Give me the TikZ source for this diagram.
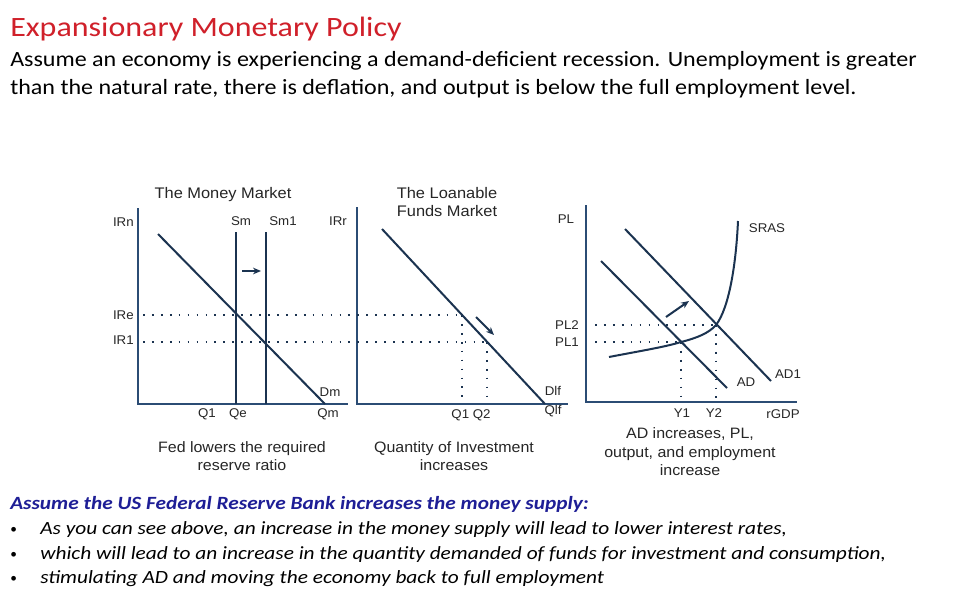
\documentclass[tikz,border=0pt]{standalone}
\usepackage{graphicx}
\usepackage{fontspec}
\setmainfont{Carlito}
\newfontfamily\arial{Liberation Sans}
\usetikzlibrary{arrows.meta}
\definecolor{titlered}{HTML}{D0202A}
\definecolor{headblue}{HTML}{1E1E96}
\definecolor{axiscol}{HTML}{2B4C74}
\definecolor{curvecol}{HTML}{1B3350}
\definecolor{labcol}{HTML}{262626}
\newcommand{\hs}[2]{\scalebox{#1}[1]{#2}}
\tikzset{
  axisline/.style={draw=axiscol, line width=2pt},
  curve/.style={draw=curvecol, line width=1.5pt},
  dotline/.style={draw=curvecol, line width=1.4pt, dash pattern=on 1.3pt off 5.4pt},
  shiftarrow/.style={draw=curvecol, line width=1.5pt, -{Stealth[length=6pt,width=5pt]}},
  lab/.style={font=\arial\fontsize{9.5}{11}\selectfont, text=labcol, inner sep=0pt},
  ttl/.style={anchor=base, font=\arial\fontsize{11.5}{13}\selectfont, text=labcol, inner sep=0pt},
  captext/.style={anchor=base, font=\arial\fontsize{11.3}{13}\selectfont, text=labcol, inner sep=0pt},
  bodytext/.style={anchor=base west, inner sep=0pt, font=\fontsize{16.3}{18}\selectfont},
  bullettext/.style={anchor=base west, inner sep=0pt, font=\itshape\fontsize{14}{16}\selectfont},
  bulletdot/.style={anchor=base west, inner sep=0pt, font=\fontsize{10}{12}\selectfont},
}
\begin{document}
\begin{tikzpicture}[x=0.75pt,y=-0.75pt]
\useasboundingbox[fill=white] (0,0) rectangle (960,600);

% ---------- texts ----------
\node[anchor=base west, inner sep=0pt, text=titlered, font=\fontsize{21}{25}\selectfont] (title) at (10,36) {\hs{1.143}{Expansionary Monetary Policy}};
\node[bodytext] (body1) at (10,66) {\hs{1.106}{Assume an economy is experiencing a demand-deficient recession. Unemployment is greater}};
\node[bodytext] (body2) at (10,94) {\hs{1.106}{than the natural rate, there is deflation, and output is below the full employment level.}};

\node[anchor=base west, inner sep=0pt, text=headblue, font=\bfseries\itshape\fontsize{14}{16}\selectfont] (head) at (10,509) {\hs{1.142}{Assume the US Federal Reserve Bank increases the money supply:}};
\node[bulletdot] (b1) at (10,533) {•};
\node[bulletdot] (b2) at (10,558) {•};
\node[bulletdot] (b3) at (10,582) {•};
\node[bullettext] (t1) at (40,534) {\hs{1.144}{As you can see above, an increase in the money supply will lead to lower interest rates,}};
\node[bullettext] (t2) at (40,559) {\hs{1.144}{which will lead to an increase in the quantity demanded of funds for investment and consumption,}};
\node[bullettext] (t3) at (40,583) {\hs{1.144}{stimulating AD and moving the economy back to full employment}};

% ---------- Money market ----------
\coordinate (mmO) at (138,404);
\coordinate (mmT) at (138,208);
\coordinate (mmR) at (348,404);
\draw[axisline] (mmT) -- (mmO) -- (mmR);
\node[ttl] (mmtitle) at (223,198) {\hs{1.07}{The Money Market}};
\node[lab, anchor=east] (IRn) at (134,222) {\hs{1.05}{IRn}};
\coordinate (dmA) at (158,234);
\coordinate (dmB) at (325,404);
\draw[curve] (dmA) -- (dmB);
\coordinate (smT) at (236,232); \coordinate (smB) at (236,404);
\coordinate (sm1T) at (266,232); \coordinate (sm1B) at (266,404);
\draw[curve] (smT) -- (smB);
\draw[curve] (sm1T) -- (sm1B);
\node[lab] (Sm) at (241,221) {\hs{1.05}{Sm}};
\node[lab] (Sm1) at (283,221) {\hs{1.05}{Sm1}};
\coordinate (arA) at (242,271); \coordinate (arB) at (261,271);
\draw[shiftarrow] (arA) -- (arB);
\node[lab, anchor=east] (IRe) at (134,315) {\hs{1.05}{IRe}};
\node[lab, anchor=east] (IR1) at (134,340) {\hs{1.05}{IR1}};
\node[lab] (Dm) at (330,392) {\hs{1.05}{Dm}};
\node[lab] (Q1m) at (207,414) {\hs{1.05}{Q1}};
\node[lab] (Qe) at (238,414) {\hs{1.05}{Qe}};
\node[lab] (Qm) at (328,414) {\hs{1.05}{Qm}};
\node[captext] (cap1a) at (242,452) {\hs{1.06}{Fed lowers the required}};
\node[captext] (cap1b) at (242,470) {\hs{1.06}{reserve ratio}};

% ---------- Loanable funds ----------
\coordinate (lfO) at (357,404);
\coordinate (lfT) at (357,207);
\coordinate (lfR) at (568,404);
\draw[axisline] (lfT) -- (lfO) -- (lfR);
\node[ttl] (lftitle1) at (447,198) {\hs{1.07}{The Loanable}};
\node[ttl] (lftitle2) at (447,216) {\hs{1.07}{Funds Market}};
\node[lab] (IRr) at (338,221) {\hs{1.05}{IRr}};
\coordinate (dlA) at (382,229);
\coordinate (dlB) at (545,404);
\draw[curve] (dlA) -- (dlB);
\coordinate (e1) at (462,315);
\coordinate (e2) at (487,342);
\node[lab] (Dlf) at (553,391) {\hs{1.05}{Dlf}};
\node[lab] (Qlf) at (553,411) {\hs{1.05}{Qlf}};
\node[lab] (Q12) at (471,415) {\hs{1.05}{Q1 Q2}};
\coordinate (ar2A) at (476,317); \coordinate (ar2B) at (494,335);
\draw[shiftarrow] (ar2A) -- (ar2B);
\node[captext] (cap2a) at (454,452) {\hs{1.06}{Quantity of Investment}};
\node[captext] (cap2b) at (454,470) {\hs{1.06}{increases}};

% dotted links money market -> loanable funds
\coordinate (ireL) at (143,315);
\coordinate (ir1L) at (143,342);
\draw[dotline] (ireL) -- (e1);
\draw[dotline] (ir1L) -- (e2);
\draw[dotline] (e1) -- (e1 |- lfO);
\draw[dotline] (e2) -- (e2 |- lfO);

% ---------- AD-AS ----------
\coordinate (asO) at (586,402);
\coordinate (asT) at (586,205);
\coordinate (asR) at (797,402);
\draw[axisline] (asT) -- (asO) -- (asR);
\node[lab] (PL) at (566,219) {\hs{1.05}{PL}};
\node[lab] (PL2) at (567,325) {\hs{1.05}{PL2}};
\node[lab] (PL1) at (567,342) {\hs{1.05}{PL1}};
\coordinate (adA) at (601,261); \coordinate (adB) at (727,388);
\coordinate (ad1A) at (625,229); \coordinate (ad1B) at (771,381);
\draw[curve] (adA) -- (adB);
\draw[curve] (ad1A) -- (ad1B);
\coordinate (y1) at (681,342);
\coordinate (y2) at (716,325);
\coordinate (srA) at (609,357);
\coordinate (srB) at (738,221);
\draw[curve] (srA) .. controls (640,351) and (665,347) .. (y1)
  .. controls (697,338) and (709,333) .. (y2)
  .. controls (729,308) and (736,265) .. (srB);
\coordinate (plL2) at (595,325);
\coordinate (plL1) at (595,342);
\draw[dotline] (plL2) -- (y2);
\draw[dotline] (plL1) -- (y1);
\draw[dotline] (y1) -- (y1 |- asO);
\draw[dotline] (y2) -- (y2 |- asO);
\coordinate (ar3A) at (666,317); \coordinate (ar3B) at (689,301);
\draw[shiftarrow] (ar3A) -- (ar3B);
\node[lab] (SRAS) at (767,228) {\hs{1.05}{SRAS}};
\node[lab] (AD) at (746,382) {\hs{1.05}{AD}};
\node[lab] (AD1) at (788,374) {\hs{1.05}{AD1}};
\node[lab] (Y1) at (682,413) {\hs{1.05}{Y1}};
\node[lab] (Y2) at (714,413) {\hs{1.05}{Y2}};
\node[lab] (rGDP) at (783,414) {\hs{1.05}{rGDP}};
\node[captext] (cap3a) at (690,438) {\hs{1.06}{AD increases, PL,}};
\node[captext] (cap3b) at (690,457) {\hs{1.06}{output, and employment}};
\node[captext] (cap3c) at (690,475) {\hs{1.06}{increase}};
\end{tikzpicture}
\end{document}
